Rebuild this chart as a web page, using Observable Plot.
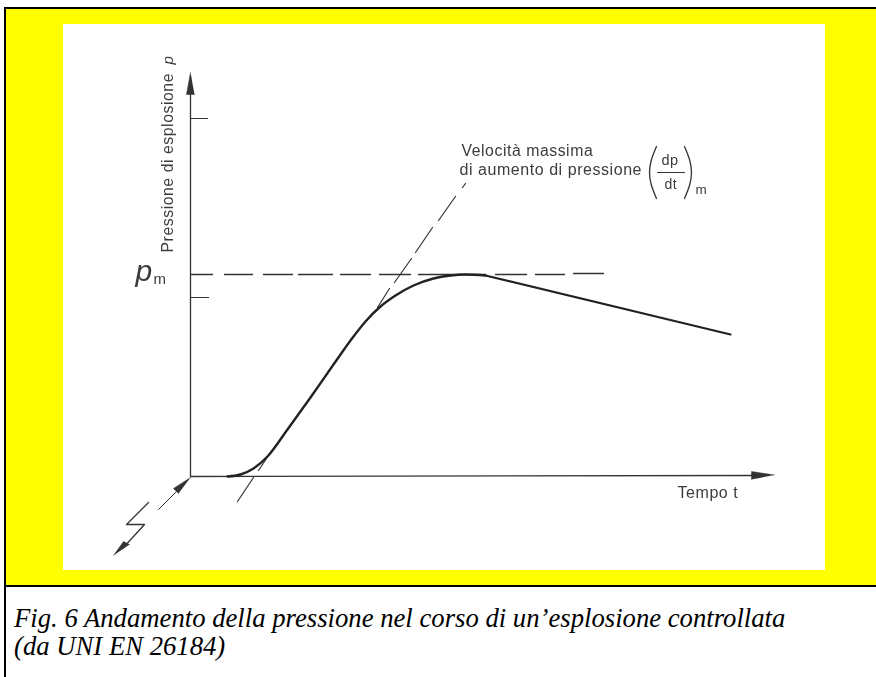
<!DOCTYPE html>
<html><head><meta charset="utf-8">
<script src="https://cdn.jsdelivr.net/npm/d3@7"></script>
<script src="https://cdn.jsdelivr.net/npm/@observablehq/plot@0.6"></script>
<style>
html,body{margin:0;padding:0;background:#fff;width:876px;height:677px;overflow:hidden}
#panel{position:absolute;left:4px;top:7px;height:576px;background:#ffff00;border-left:2px solid #000;border-top:2px solid #000;border-bottom:2px solid #000;width:870px}
#chart{position:absolute;left:63px;top:24px;width:762px;height:546px;background:#fff}
#chart svg{display:block;background:#fff;filter:blur(0.35px)}
#rule{position:absolute;left:4px;top:587px;width:2px;height:90px;background:#000}
#caption{position:absolute;left:14px;top:604px;font:italic 26.7px/28px "Liberation Serif",serif;color:#000;white-space:nowrap}
</style></head><body>
<div id="panel"></div><div id="chart"></div><div id="rule"></div>
<div id="caption">Fig. 6 Andamento della pressione nel corso di un’esplosione controllata<br>(da UNI EN 26184)</div>
<script>
// time t and pressure p, in the picture's units (origin where the axes meet)
const curveT = [37,50,63,77,97,120,143,163,175,190,205,223,243,260,275,295];
const curveP = [0,2,8,20,47,79,112,140,155,170,181,191,198,201,202,201];
const tailT = [295,540];
const tailP = [201,142];
const pmDashT = [[0,22],[34,62],[73,102],[108,142],[150,180],[189,220],[228,295],[305,336],[345,374],[383,413]];
const pmDashP = [[202,202],[202,202],[202,202],[202,202],[202,202],[202,202],[202,202],[202,202],[202,202],[203,203]];
const tangentT = [[47,63],[68,76],[187,199],[204,221],[225,242],[248,265],[272,275]];
const tangentP = [[-25,-1],[6,18],[169,188],[194,218],[224,249],[256,280],[289,293]];
const yAxisT = [0,0], yAxisP = [0,400];
const xAxisT = [0,564], xAxisP = [0,1];
const yHeadT = [0,-4,4], yHeadP = [404,382,382];
const xHeadT = [584,561,561], xHeadP = [1.5,5,-3];
const tickP = [358,179];
const tickEnd = [18,19];
const sparkInT = [-32,-14], sparkInP = [-33,-15];
const sparkHeadT = [0,-17,-12], sparkHeadP = [-1,-12,-17];
const boltT = [-42,-64,-46,-68], boltP = [-26,-48,-48,-72];
const boltHeadT = [-77,-67,-61], boltHeadP = [-79,-65,-68];
const leftParenT = [466,461,459,461,466], leftParenP = [330,317,304,291,278];
const rightParenT = [494,499,501,499,494], rightParenP = [330,317,304,291,278];
const fractionT = [467,494], fractionP = [304,304];
const labels = [
  {t:-18,p:224,text:"Pressione di esplosione",rotate:-90,size:15.8,italic:false},
  {t:-18,p:412,text:"p",rotate:-90,size:15,italic:true},
  {t:-55,p:196,text:"p",rotate:0,size:30,italic:true},
  {t:-37,p:193,text:"m",rotate:0,size:15,italic:false},
  {t:271,p:320.5,text:"Velocità massima",rotate:0,size:15.8,italic:false},
  {t:269,p:301.5,text:"di aumento di pressione",rotate:0,size:16,italic:false},
  {t:471,p:312,text:"dp",rotate:0,size:14.5,italic:false},
  {t:474,p:288,text:"dt",rotate:0,size:14,italic:false},
  {t:505,p:283,text:"m",rotate:0,size:13.5,italic:false},
  {t:487,p:-21,text:"Tempo t",rotate:0,size:16,italic:false}
];
const pairs = (ts,ps,n) => ts.flatMap((t,i)=>t.map((v,j)=>({t:v,p:ps[i][j],k:n+i})));
const zip = (ts,ps) => ts.map((t,i)=>({t,p:ps[i]}));
const ink = "#333";
const textMarks = labels.map(d => Plot.text([d],{
  x:"t",y:"p",text:"text",rotate:d.rotate,fontSize:d.size,fill:"#3c3c3c",
  textAnchor:"start",lineAnchor:"bottom",fontStyle:d.italic?"italic":"normal"
}));
const plot = Plot.plot({
  width:762,height:546,margin:0,
  x:{domain:[-127,635],range:[0,762],axis:null},
  y:{domain:[-94,452],range:[546,0],axis:null},
  style:{fontFamily:"'Liberation Sans',sans-serif",letterSpacing:"0.55px",background:"#fff"},
  marks:[
    Plot.line(zip(yAxisT,yAxisP),{x:"t",y:"p",stroke:ink,strokeWidth:1.3}),
    Plot.line(zip(xAxisT,xAxisP),{x:"t",y:"p",stroke:ink,strokeWidth:1.3}),
    Plot.line(zip(yHeadT,yHeadP),{x:"t",y:"p",fill:ink,stroke:ink,strokeWidth:0.5}),
    Plot.line(zip(xHeadT,xHeadP),{x:"t",y:"p",fill:ink,stroke:ink,strokeWidth:0.5}),
    Plot.ruleY(tickP,{x1:0,x2:(d,i)=>tickEnd[i],stroke:ink,strokeWidth:1}),
    Plot.line(pairs(pmDashT,pmDashP,0),{x:"t",y:"p",z:"k",stroke:ink,strokeWidth:1.4}),
    Plot.line(pairs(tangentT,tangentP,100),{x:"t",y:"p",z:"k",stroke:ink,strokeWidth:1.2}),
    Plot.line(zip(curveT,curveP),{x:"t",y:"p",curve:"monotone-x",stroke:"#222",strokeWidth:2.4}),
    Plot.line(zip(tailT,tailP),{x:"t",y:"p",stroke:"#222",strokeWidth:2.2}),
    Plot.line(zip(sparkInT,sparkInP),{x:"t",y:"p",stroke:ink,strokeWidth:1}),
    Plot.line(zip(sparkHeadT,sparkHeadP),{x:"t",y:"p",fill:ink,stroke:ink,strokeWidth:0.5}),
    Plot.line(zip(boltT,boltP),{x:"t",y:"p",stroke:ink,strokeWidth:1.3}),
    Plot.line(zip(boltHeadT,boltHeadP),{x:"t",y:"p",fill:ink,stroke:ink,strokeWidth:0.5}),
    Plot.line(zip(leftParenT,leftParenP),{x:"t",y:"p",curve:"natural",stroke:ink,strokeWidth:1.3}),
    Plot.line(zip(rightParenT,rightParenP),{x:"t",y:"p",curve:"natural",stroke:ink,strokeWidth:1.3}),
    Plot.line(zip(fractionT,fractionP),{x:"t",y:"p",stroke:ink,strokeWidth:1}),
    ...textMarks
  ]
});
document.getElementById("chart").appendChild(plot);
</script>
</body></html>
